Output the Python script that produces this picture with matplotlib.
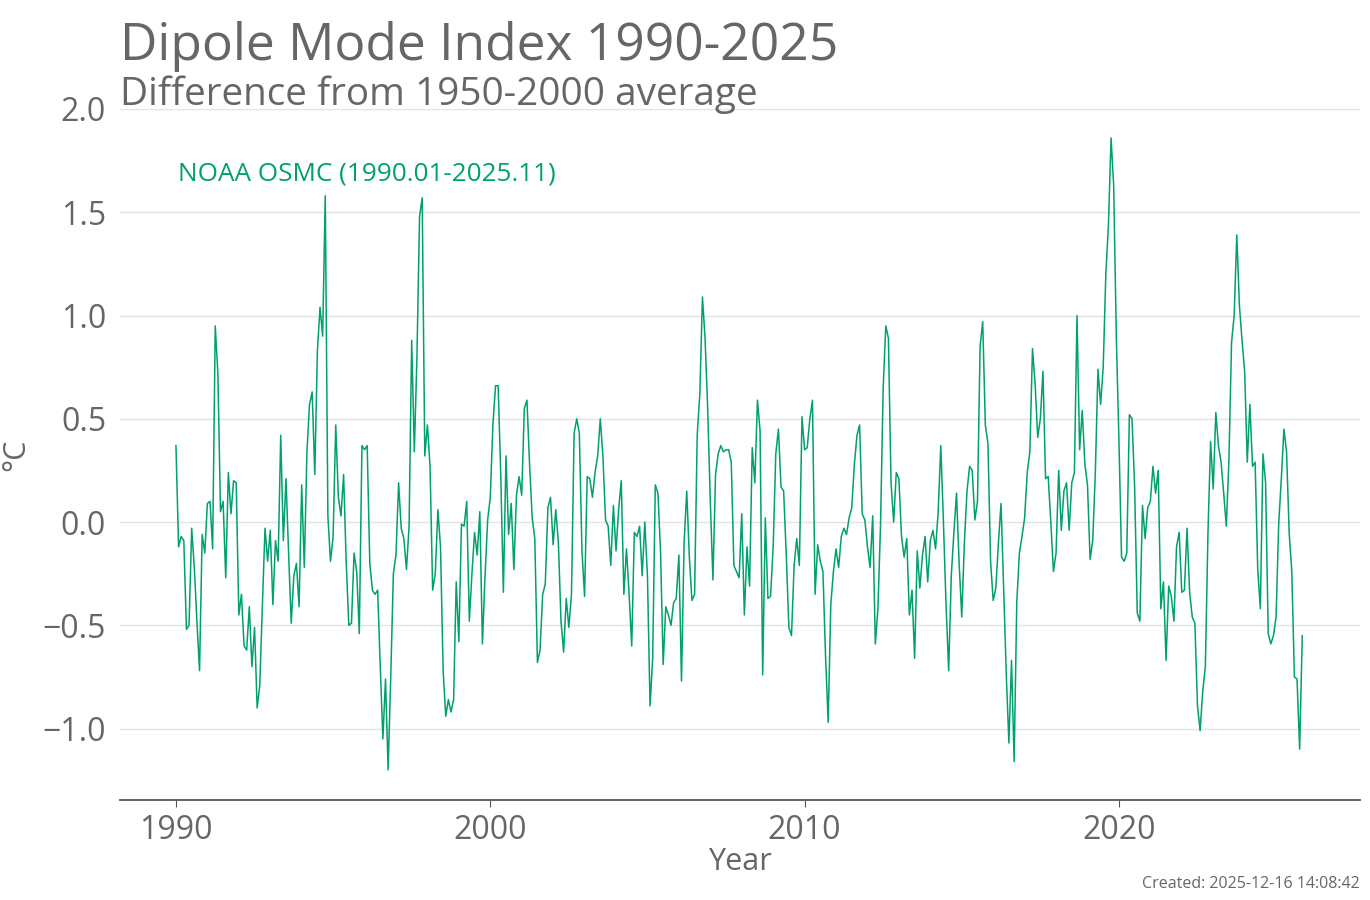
"""Dipole Mode Index monthly anomalies, 1990-2025."""

import matplotlib
matplotlib.use('Agg')
import matplotlib.pyplot as plt
import numpy as np

# Monthly DMI values (degC), Jan 1990 .. Nov 2025
dmi_by_year = {
    1990: [0.37, -0.12, -0.07, -0.09, -0.52, -0.50, -0.03, -0.22, -0.48, -0.72, -0.06, -0.15],
    1991: [0.09, 0.10, -0.13, 0.95, 0.72, 0.05, 0.10, -0.27, 0.24, 0.04, 0.20, 0.19],
    1992: [-0.45, -0.35, -0.60, -0.62, -0.41, -0.70, -0.51, -0.90, -0.79, -0.40, -0.03, -0.19],
    1993: [-0.04, -0.40, -0.09, -0.19, 0.42, -0.09, 0.21, -0.15, -0.49, -0.26, -0.20, -0.41],
    1994: [0.18, -0.22, 0.34, 0.57, 0.63, 0.23, 0.83, 1.04, 0.90, 1.58, 0.03, -0.19],
    1995: [-0.07, 0.47, 0.12, 0.03, 0.23, -0.20, -0.50, -0.49, -0.15, -0.24, -0.54, 0.37],
    1996: [0.35, 0.37, -0.20, -0.33, -0.35, -0.33, -0.70, -1.05, -0.76, -1.20, -0.75, -0.25],
    1997: [-0.16, 0.19, -0.03, -0.08, -0.23, -0.02, 0.88, 0.34, 0.80, 1.48, 1.57, 0.32],
    1998: [0.47, 0.27, -0.33, -0.25, 0.06, -0.12, -0.72, -0.94, -0.86, -0.92, -0.86, -0.29],
    1999: [-0.58, -0.01, -0.02, 0.10, -0.48, -0.25, -0.05, -0.16, 0.05, -0.59, -0.26, 0.01],
    2000: [0.12, 0.47, 0.66, 0.66, 0.23, -0.34, 0.32, -0.06, 0.09, -0.23, 0.13, 0.22],
    2001: [0.13, 0.55, 0.59, 0.28, 0.02, -0.08, -0.68, -0.62, -0.35, -0.30, 0.07, 0.12],
    2002: [-0.11, 0.06, -0.10, -0.48, -0.63, -0.37, -0.51, -0.35, 0.43, 0.50, 0.43, -0.14],
    2003: [-0.36, 0.22, 0.21, 0.12, 0.24, 0.32, 0.50, 0.32, 0.01, -0.02, -0.21, 0.08],
    2004: [-0.14, 0.06, 0.20, -0.35, -0.13, -0.35, -0.60, -0.05, -0.07, -0.02, -0.26, 0.00],
    2005: [-0.26, -0.89, -0.66, 0.18, 0.14, -0.14, -0.69, -0.41, -0.45, -0.50, -0.39, -0.37],
    2006: [-0.16, -0.77, -0.10, 0.15, -0.17, -0.38, -0.35, 0.42, 0.62, 1.09, 0.89, 0.55],
    2007: [0.10, -0.28, 0.23, 0.33, 0.37, 0.34, 0.35, 0.35, 0.29, -0.21, -0.24, -0.27],
    2008: [0.04, -0.45, -0.12, -0.31, 0.36, 0.19, 0.59, 0.44, -0.74, 0.02, -0.37, -0.36],
    2009: [-0.12, 0.33, 0.45, 0.17, 0.15, -0.16, -0.51, -0.55, -0.21, -0.08, -0.21, 0.51],
    2010: [0.35, 0.36, 0.50, 0.59, -0.35, -0.11, -0.19, -0.24, -0.65, -0.97, -0.40, -0.24],
    2011: [-0.13, -0.22, -0.07, -0.03, -0.06, 0.02, 0.07, 0.28, 0.42, 0.47, 0.04, 0.01],
    2012: [-0.12, -0.22, 0.03, -0.59, -0.42, -0.01, 0.65, 0.95, 0.89, 0.19, 0.00, 0.24],
    2013: [0.21, -0.07, -0.17, -0.08, -0.45, -0.33, -0.66, -0.14, -0.32, -0.16, -0.07, -0.29],
    2014: [-0.09, -0.04, -0.13, 0.05, 0.37, 0.00, -0.40, -0.72, -0.26, -0.05, 0.14, -0.20],
    2015: [-0.46, -0.10, 0.15, 0.27, 0.25, 0.01, 0.10, 0.85, 0.97, 0.47, 0.38, -0.19],
    2016: [-0.38, -0.32, -0.10, 0.09, -0.33, -0.74, -1.07, -0.67, -1.16, -0.39, -0.15, -0.07],
    2017: [0.02, 0.24, 0.34, 0.84, 0.67, 0.41, 0.50, 0.73, 0.21, 0.22, 0.00, -0.24],
    2018: [-0.15, 0.25, -0.04, 0.15, 0.19, -0.04, 0.19, 0.24, 1.00, 0.35, 0.54, 0.28],
    2019: [0.18, -0.18, -0.09, 0.24, 0.74, 0.57, 0.75, 1.20, 1.44, 1.86, 1.63, 0.90],
    2020: [0.40, -0.17, -0.19, -0.15, 0.52, 0.50, 0.17, -0.44, -0.48, 0.08, -0.08, 0.07],
    2021: [0.10, 0.27, 0.14, 0.25, -0.42, -0.29, -0.67, -0.31, -0.36, -0.48, -0.12, -0.05],
    2022: [-0.34, -0.33, -0.03, -0.34, -0.46, -0.49, -0.89, -1.01, -0.82, -0.70, -0.05, 0.39],
    2023: [0.16, 0.53, 0.37, 0.29, 0.14, -0.02, 0.30, 0.87, 1.00, 1.39, 1.05, 0.88],
    2024: [0.73, 0.29, 0.57, 0.27, 0.29, -0.23, -0.42, 0.33, 0.19, -0.54, -0.59, -0.55],
    2025: [-0.46, -0.01, 0.21, 0.45, 0.34, -0.05, -0.24, -0.75, -0.76, -1.10, -0.55],
}

y_ticks = [-1.0, -0.5, 0.0, 0.5, 1.0, 1.5, 2.0]
x_ticks = [1990, 2000, 2010, 2020]

title = 'Dipole Mode Index 1990-2025'
subtitle = 'Difference from 1950-2000 average'
series_label = 'NOAA OSMC (1990.01-2025.11)'
created = 'Created: 2025-12-16 14:08:42'

TEXT = '#666666'
LINE = '#00a070'

plt.rcParams['font.family'] = ['Open Sans', 'DejaVu Sans']

# Build decimal time axis
years = []
values = []
for year, months in dmi_by_year.items():
    for i, val in enumerate(months):
        years.append(year + i / 12.0)
        values.append(val)
years = np.array(years)
values = np.array(values)

fig = plt.figure(figsize=(13.7, 9.0), dpi=100)
axes = fig.add_axes([0.0876, 0.1111, 0.9051, 0.7678])

axes.plot(years, values, color=LINE, lw=1.1)

axes.set_xlim(1988.22, 2027.67)
axes.set_ylim(-1.346, 2.0)
axes.set_yticks(y_ticks)
axes.set_yticklabels([f'{t:.1f}'.replace('-', '\u2212') for t in y_ticks])
axes.set_xticks(x_ticks)

axes.grid(axis='y', color='#e3e3e3', lw=1.0)
axes.set_axisbelow(True)
for side in ('left', 'right', 'top'):
    axes.spines[side].set_visible(False)
axes.spines['bottom'].set_color('#555555')
axes.spines['bottom'].set_linewidth(1.3)
axes.tick_params(axis='y', length=0, pad=10, labelsize=23, labelcolor=TEXT)
axes.tick_params(axis='x', length=5, color='#555555', pad=5,
                 labelsize=23, labelcolor=TEXT)

axes.set_xlabel('Year', fontsize=22, color=TEXT, labelpad=0)
fig.text(0.012, 0.495, '°C', rotation=90, fontsize=22, color=TEXT,
         ha='center', va='center')

axes.text(1990.05, 1.685, series_label, color=LINE, fontsize=18.8,
          ha='left', va='center')

fig.text(0.0876, 0.9333, title, fontsize=37.1, color=TEXT, ha='left',
         va='baseline')
fig.text(0.0876, 0.8833, subtitle, fontsize=27.9, color=TEXT, ha='left',
         va='baseline')
fig.text(0.9927, 0.018, created, fontsize=11.5, color=TEXT, ha='right',
         va='center')

fig.savefig('out.png', dpi=100, facecolor='white')
plt.close(fig)
